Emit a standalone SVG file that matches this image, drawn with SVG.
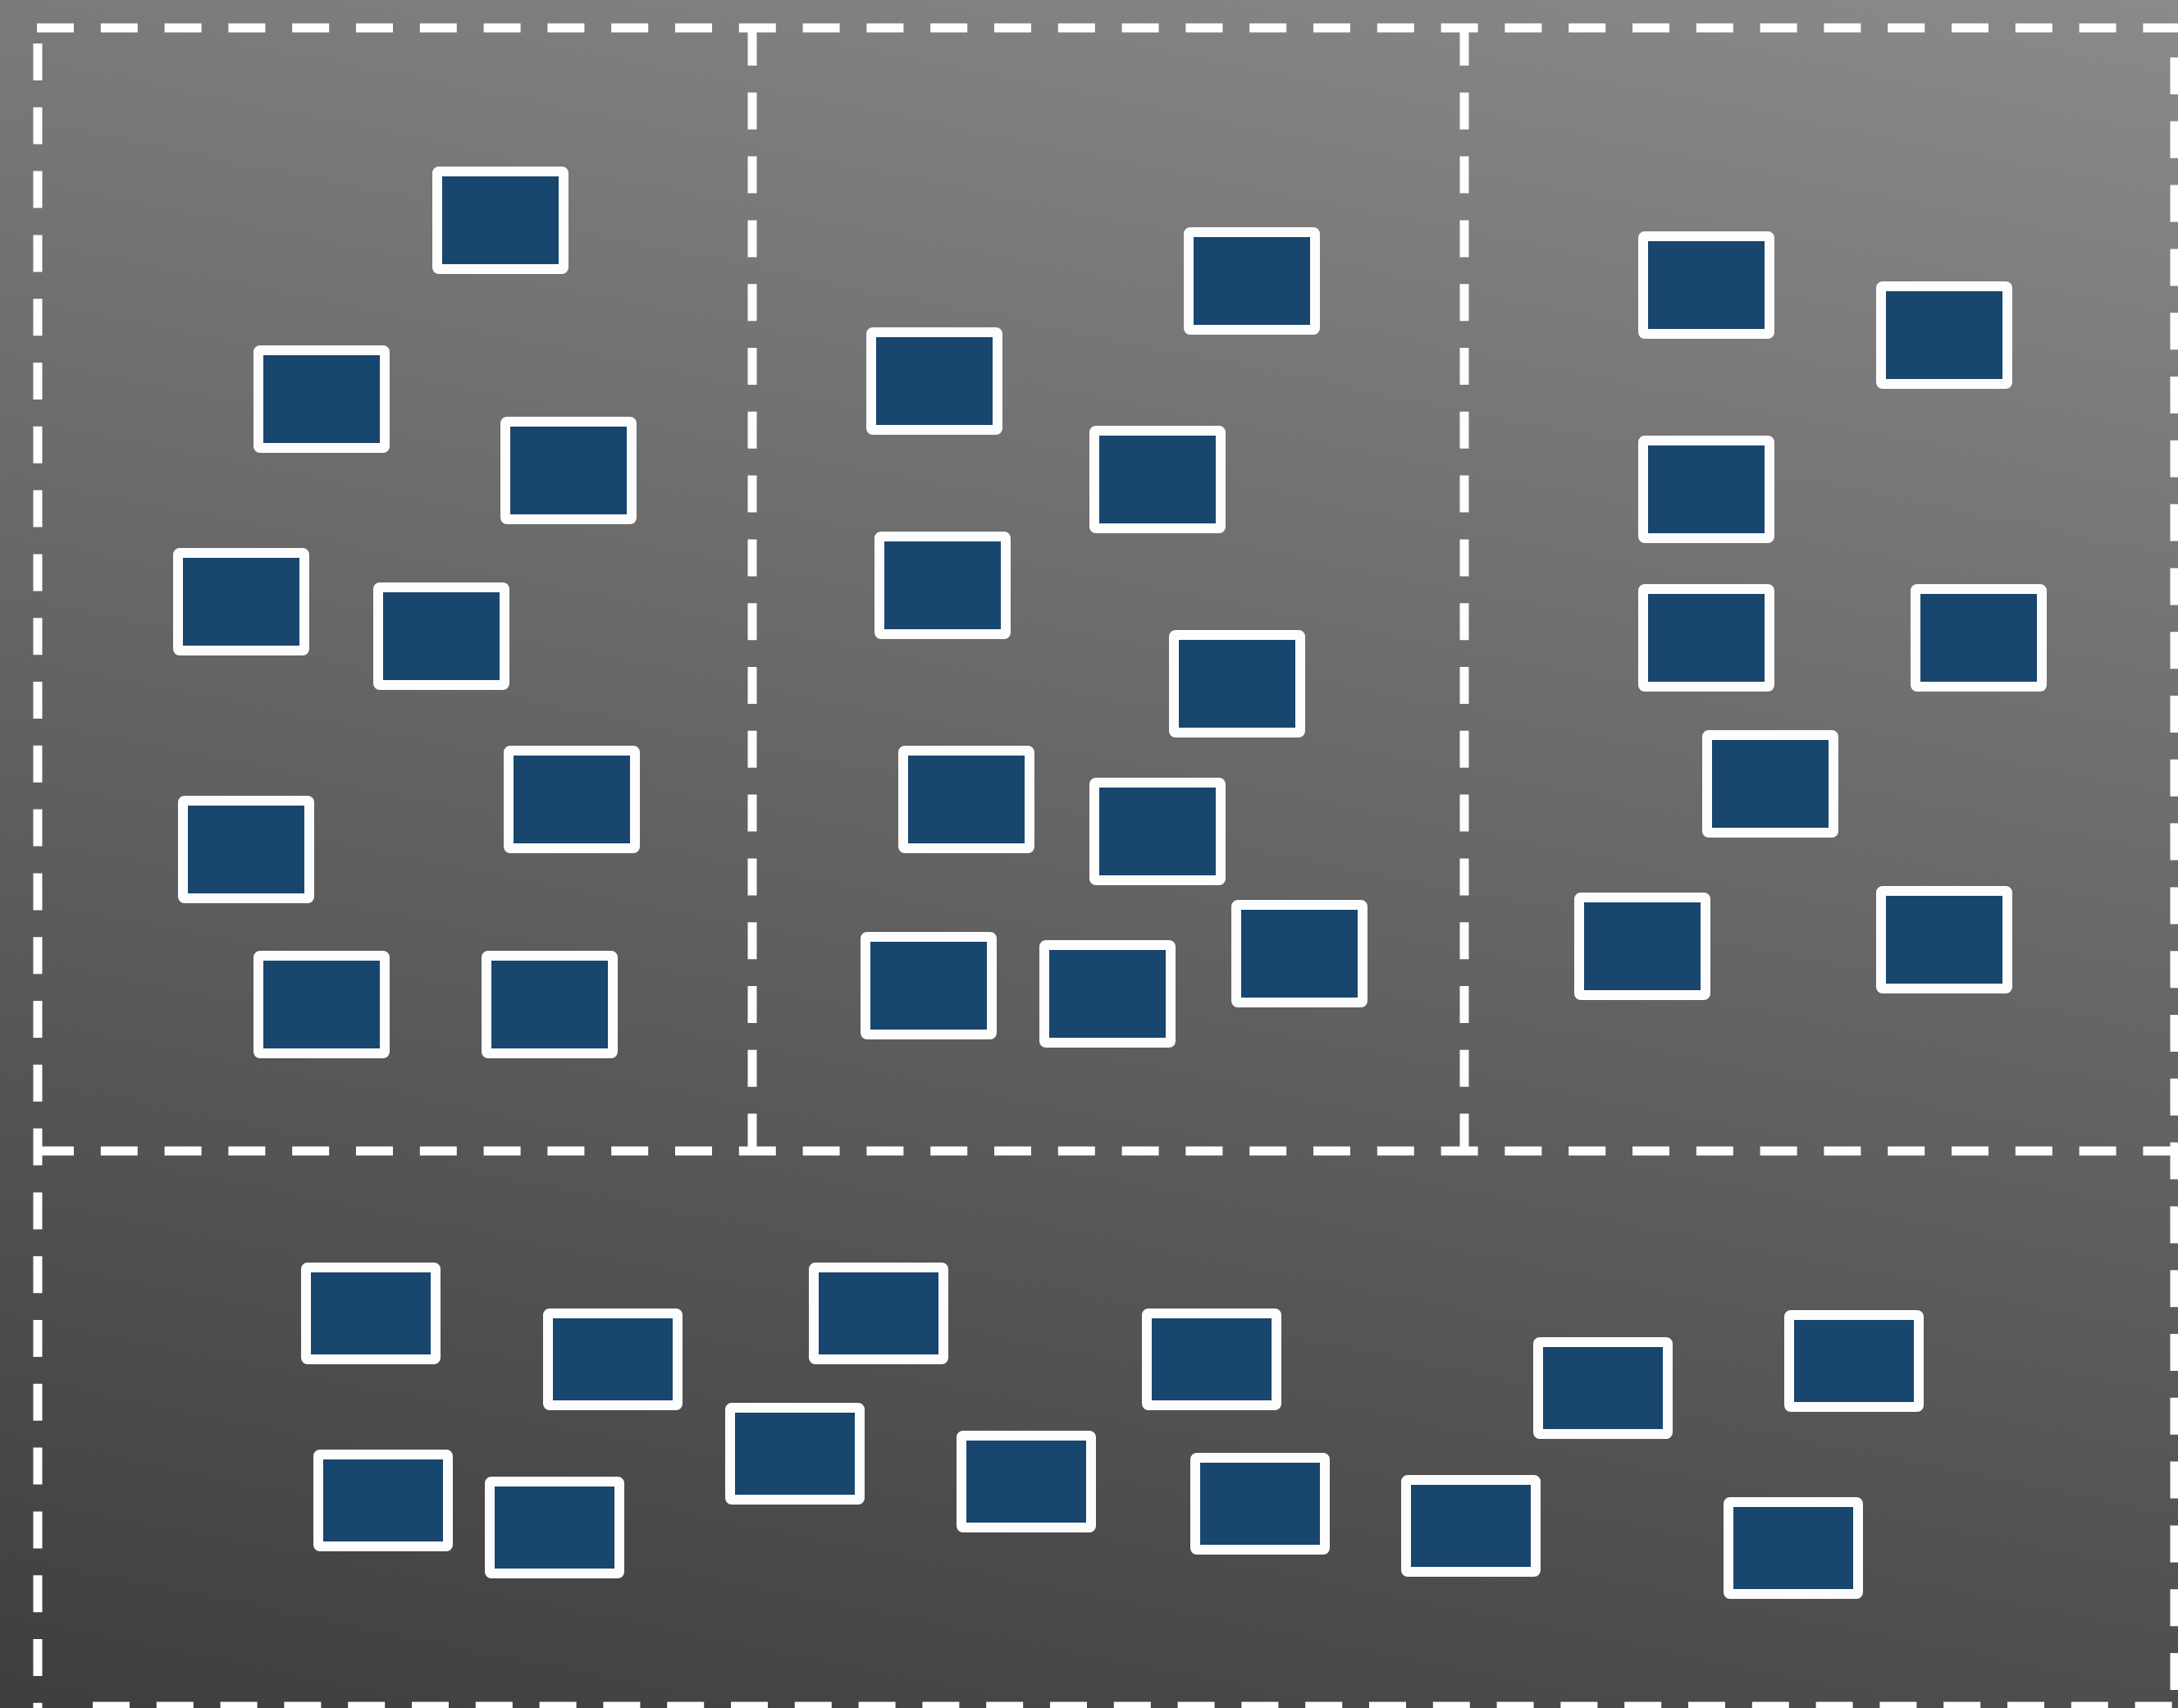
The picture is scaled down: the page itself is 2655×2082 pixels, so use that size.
<svg xmlns="http://www.w3.org/2000/svg" width="2655" height="2082" viewBox="0 0 2655 2082">
<defs>
<linearGradient id="bg" gradientUnits="userSpaceOnUse" x1="0" y1="2082" x2="509" y2="-431">
<stop offset="0" stop-color="#3e3e3e"/>
<stop offset="1" stop-color="#8a8a8a"/>
</linearGradient>
<style>
.dash{fill:none;stroke:#ffffff;stroke-width:11;stroke-dasharray:45 32.8;stroke-linecap:butt}
.nt rect{fill:#19466e;stroke:#fdfdfd;stroke-width:12;rx:2}
</style>
</defs>
<rect x="0" y="0" width="2655" height="2082" fill="url(#bg)"/>
<g id="connectors">
<path class="dash" d="M45 34 H2655"/>
<path class="dash" d="M45 1403 H2655"/>
<path class="dash" d="M113 2080 H2655"/>
<path class="dash" d="M46 53 V2082"/>
<path class="dash" d="M2651 70 V2082"/>
<path class="dash" d="M917 35 V1403"/>
<path class="dash" d="M1785 35 V1403"/>
</g>
<g class="nt">
<g id="n1"><rect x="533" y="209" width="154" height="119"/></g>
<g id="n2"><rect x="315" y="427" width="154" height="119"/></g>
<g id="n3"><rect x="616" y="514" width="154" height="119"/></g>
<g id="n4"><rect x="217" y="674" width="154" height="119"/></g>
<g id="n5"><rect x="461" y="716" width="154" height="119"/></g>
<g id="n6"><rect x="620" y="915" width="154" height="119"/></g>
<g id="n7"><rect x="223" y="976" width="154" height="119"/></g>
<g id="n8"><rect x="315" y="1165" width="154" height="119"/></g>
<g id="n9"><rect x="593" y="1165" width="154" height="119"/></g>
<g id="n10"><rect x="1449" y="283" width="154" height="119"/></g>
<g id="n11"><rect x="1062" y="405" width="154" height="119"/></g>
<g id="n12"><rect x="1334" y="525" width="154" height="119"/></g>
<g id="n13"><rect x="1072" y="654" width="154" height="119"/></g>
<g id="n14"><rect x="1431" y="774" width="154" height="119"/></g>
<g id="n15"><rect x="1101" y="915" width="154" height="119"/></g>
<g id="n16"><rect x="1334" y="954" width="154" height="119"/></g>
<g id="n17"><rect x="1055" y="1142" width="154" height="119"/></g>
<g id="n18"><rect x="1273" y="1152" width="154" height="119"/></g>
<g id="n19"><rect x="1507" y="1103" width="154" height="119"/></g>
<g id="n20"><rect x="2003" y="288" width="154" height="119"/></g>
<g id="n21"><rect x="2293" y="349" width="154" height="119"/></g>
<g id="n22"><rect x="2003" y="537" width="154" height="119"/></g>
<g id="n23"><rect x="2003" y="718" width="154" height="119"/></g>
<g id="n24"><rect x="2335" y="718" width="154" height="119"/></g>
<g id="n25"><rect x="2081" y="896" width="154" height="119"/></g>
<g id="n26"><rect x="1925" y="1094" width="154" height="119"/></g>
<g id="n27"><rect x="2293" y="1086" width="154" height="119"/></g>
<g id="n28"><rect x="373" y="1545" width="158" height="112"/></g>
<g id="n29"><rect x="668" y="1601" width="158" height="112"/></g>
<g id="n30"><rect x="992" y="1545" width="158" height="112"/></g>
<g id="n31"><rect x="1398" y="1601" width="158" height="112"/></g>
<g id="n32"><rect x="1875" y="1636" width="158" height="112"/></g>
<g id="n33"><rect x="2181" y="1603" width="158" height="112"/></g>
<g id="n34"><rect x="388" y="1773" width="158" height="112"/></g>
<g id="n35"><rect x="597" y="1806" width="158" height="112"/></g>
<g id="n36"><rect x="890" y="1716" width="158" height="112"/></g>
<g id="n37"><rect x="1172" y="1750" width="158" height="112"/></g>
<g id="n38"><rect x="1457" y="1777" width="158" height="112"/></g>
<g id="n39"><rect x="1714" y="1804" width="158" height="112"/></g>
<g id="n40"><rect x="2107" y="1831" width="158" height="112"/></g>
</g>
</svg>
